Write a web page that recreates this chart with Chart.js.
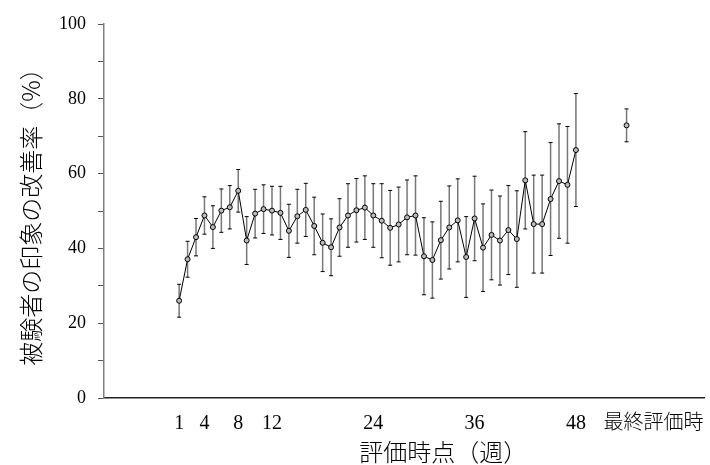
<!DOCTYPE html>
<html>
<head>
<meta charset="utf-8">
<title>改善率の推移</title>
<script src="https://cdn.jsdelivr.net/npm/chart.js"></script>
<style>
  body { margin: 0; background: #fff; }
  #wrap { width: 710px; height: 465px; }
</style>
</head>
<body>
<div id="wrap"><canvas id="myChart"></canvas></div>

<script>
// values
var weeks = [1, 2, 3, 4, 5, 6, 7, 8, 9, 10, 11, 12, 13, 14, 15, 16,
             17, 18, 19, 20, 21, 22, 23, 24, 25, 26, 27, 28, 29, 30, 31, 32,
             33, 34, 35, 36, 37, 38, 39, 40, 41, 42, 43, 44, 45, 46, 47, 48];
var meanRate = [26.0, 37.1, 43.0, 48.8, 45.7, 50.1, 51.0, 55.4, 42.1, 49.3,
                50.5, 50.1, 49.5, 44.7, 48.6, 50.3, 46.0, 41.5, 40.3, 45.6,
                48.8, 50.2, 50.9, 48.8, 47.4, 45.5, 46.4, 48.3, 48.8, 37.9,
                36.9, 42.2, 45.6, 47.5, 37.7, 48.0, 40.2, 43.6, 42.1, 44.9,
                42.5, 58.2, 46.5, 46.5, 53.2, 58.0, 57.0, 66.3];
var errRate = [4.4, 4.8, 5.0, 5.0, 5.7, 5.8, 5.8, 5.7, 6.4, 6.5,
               6.5, 6.5, 7.1, 7.1, 7.2, 7.1, 7.7, 7.7, 7.6, 7.7,
               8.5, 8.5, 8.5, 8.5, 9.9, 10.0, 10.0, 10.0, 10.6, 10.3,
               10.2, 10.4, 11.1, 11.1, 10.8, 11.3, 11.7, 12.0, 11.9, 11.9,
               12.9, 13.0, 13.1, 13.1, 15.1, 15.3, 15.6, 15.1];
var finalPos = 54;
var finalMean = [72.9];
var finalErr = [4.4];

var xTicks = [1, 4, 8, 12, 24, 36, 48];
var finalTickPos = 57.2;
var finalLabel = '最終評価時';
var yTitle = '被験者の印象の改善率（%）';
var xTitle = '評価時点（週）';

var serif = "'Liberation Serif', 'Noto Sans CJK JP', serif";
var sans = "'Noto Sans CJK JP', sans-serif";

Chart.defaults.color = '#000';

// error bars, drawn before the line and markers
var errorBars = {
    id: 'errorBars',
    beforeDatasetsDraw: function(chart) {
        var ctx = chart.ctx, x = chart.scales.x, y = chart.scales.y;
        ctx.save();
        chart.data.datasets.forEach(function(ds) {
            ds.data.forEach(function(p, i) {
                var px = x.getPixelForValue(p.x);
                var top = y.getPixelForValue(p.y + ds.err[i]);
                var bot = y.getPixelForValue(p.y - ds.err[i]);
                ctx.strokeStyle = '#777';
                ctx.lineWidth = 1.5;
                ctx.beginPath();
                ctx.moveTo(px, top);
                ctx.lineTo(px, bot);
                ctx.stroke();
                ctx.strokeStyle = '#000';
                ctx.lineWidth = 1;
                ctx.beginPath();
                ctx.moveTo(px - 2, top); ctx.lineTo(px + 2, top);
                ctx.moveTo(px - 2, bot); ctx.lineTo(px + 2, bot);
                ctx.stroke();
            });
        });
        ctx.restore();
    }
};

// x title sits right of the axis centre in the original
var xAxisTitle = {
    id: 'xAxisTitle',
    afterDraw: function(chart) {
        var ctx = chart.ctx;
        ctx.save();
        ctx.font = '300 24px ' + sans;
        ctx.fillStyle = '#000';
        ctx.textAlign = 'center';
        ctx.textBaseline = 'middle';
        ctx.fillText(xTitle, chart.scales.x.getPixelForValue(32.3), 452);
        ctx.restore();
    }
};

var ctx = document.getElementById('myChart').getContext('2d');
var myChart = new Chart(ctx, {
    type: 'line',
    data: {
        datasets: [{
            data: weeks.map(function(w, i) { return { x: w, y: meanRate[i] }; }),
            err: errRate,
            borderColor: '#000',
            borderWidth: 1,
            pointRadius: 2.5,
            pointBackgroundColor: '#bbb',
            pointBorderColor: '#000',
            pointBorderWidth: 1,
            tension: 0
        }, {
            data: finalMean.map(function(v) { return { x: finalPos, y: v }; }),
            err: finalErr,
            showLine: false,
            pointRadius: 2.5,
            pointBackgroundColor: '#bbb',
            pointBorderColor: '#000',
            pointBorderWidth: 1
        }]
    },
    options: {
        responsive: true,
        maintainAspectRatio: false,
        animation: false,
        layout: { padding: { top: 24, right: 5, left: 0, bottom: 0 } },
        plugins: {
            legend: { display: false },
            tooltip: { enabled: false }
        },
        scales: {
            x: {
                type: 'linear',
                min: -7.9,
                max: 63.2,
                afterFit: function(scale) { scale.height = 67; },
                afterBuildTicks: function(scale) {
                    scale.ticks = xTicks.concat([finalTickPos]).map(function(v) { return { value: v }; });
                },
                ticks: {
                    font: { family: serif, size: 20, weight: '300' },
                    color: '#000',
                    padding: 6,
                    maxRotation: 0,
                    autoSkip: false,
                    callback: function(v) { return v === finalTickPos ? finalLabel : v; }
                },
                grid: { display: false },
                border: { display: true, color: '#222', width: 1.5 }
            },
            y: {
                min: 0,
                max: 100,
                afterFit: function(scale) { scale.width = 104; },
                ticks: {
                    stepSize: 10,
                    font: { family: serif, size: 18 },
                    color: '#000',
                    padding: 12,
                    callback: function(v) { return v % 20 === 0 ? v : ''; }
                },
                grid: { drawOnChartArea: false, tickLength: 6, color: '#555' },
                border: { display: true, color: '#808080', width: 1.5 },
                title: {
                    display: true,
                    text: yTitle,
                    font: { family: sans, size: 24, weight: '300' },
                    color: '#000',
                    padding: { top: 16, bottom: 0 }
                }
            }
        }
    },
    plugins: [errorBars, xAxisTitle]
});
</script>
</body>
</html>
